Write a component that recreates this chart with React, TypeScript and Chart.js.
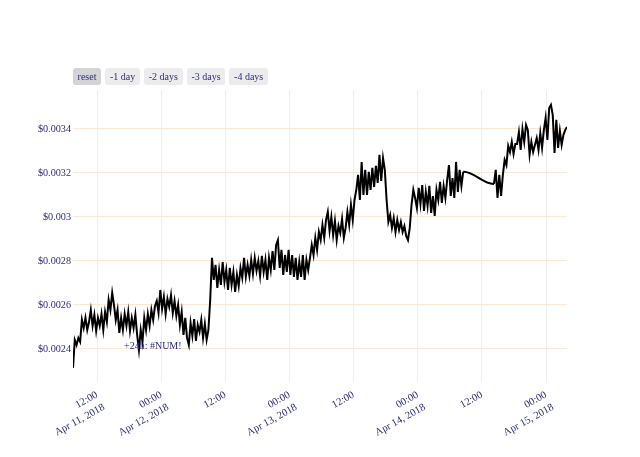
import React, { useEffect, useRef } from "react";
import { Chart, registerables } from "chart.js";

Chart.register(...registerables);

// Hours counted from Apr 11, 2018 00:00
const part1StartHour = 7.5; // Apr 11 07:30
const part2StartHour = 86.25; // Apr 14 14:15
const stepHours = 1 / 3; // 20-minute samples

// Prices in millionths of a dollar
const pricesPart1 = [
  2314, 2441, 2418, 2450, 2432,
  2532, 2495, 2541, 2486, 2523,
  2577, 2505, 2555, 2482, 2541, 2505, 2559, 2486,
  2568, 2523, 2623, 2577, 2655, 2600,
  2532, 2577, 2473, 2541,
  2486, 2559, 2505, 2568, 2482, 2541, 2495, 2555,
  2464, 2395, 2486, 2432,
  2541, 2486, 2559, 2505, 2577, 2532, 2595,
  2618, 2564, 2668, 2582, 2636, 2559, 2627, 2591, 2645, 2564, 2618, 2550,
  2600, 2509, 2568, 2464, 2541, 2450,
  2418, 2518, 2459, 2536, 2436, 2509, 2477, 2532, 2450, 2514, 2441, 2486,
  2623, 2814,
  2714, 2782, 2677, 2759, 2691, 2795, 2705,
  2759, 2668, 2768, 2691, 2750, 2659, 2736, 2686, 2768,
  2723, 2814, 2727, 2782, 2732, 2805, 2741, 2814, 2755, 2800,
  2732, 2823, 2750, 2805, 2714, 2814, 2759,
  2845, 2759, 2873, 2895, 2768, 2850, 2736, 2827, 2750, 2850,
  2736, 2827, 2727, 2814, 2714, 2795, 2727, 2827, 2714, 2805, 2759,
  2814, 2873, 2827, 2905, 2850, 2932,
  2895, 2964, 2905, 2986, 3023, 2936, 3000, 2918, 2982, 2895, 2959, 2927, 2991, 2905,
  2950, 3023, 2964, 3055, 2986, 3077,
  3123, 3191, 3077, 3250, 3100, 3214,
  3100, 3205, 3123, 3223,
  3136, 3232, 3155, 3282, 3164, 3268, 3214,
  3077, 2977, 3009,
  2950, 2995, 2932, 2986, 2941, 2977,
  2932, 2959, 2914, 2895, 2950,
  3055, 3123, 3086,
  3041, 3132, 3059, 3145, 3027, 3114, 3050, 3141, 3018, 3095, 3005,
  3123, 3077, 3159, 3064, 3141, 3086, 3168, 3236, 3095,
  3177, 3086, 3250, 3114, 3214, 3141, 3205,
];

const pricesPart2 = [
  3150,
  3214, 3086, 3191, 3095,
  3191, 3259, 3236,
  3323, 3295, 3341, 3286, 3332,
  3332, 3386, 3305, 3400, 3341,
  3418,
  3395, 3282, 3341, 3295,
  3327, 3359, 3305, 3382, 3314,
  3395, 3450, 3350,
  3495, 3509,
  3464, 3291, 3441,
  3314, 3391, 3327, 3373, 3395, 3409,
];

const xTickHours = [12, 24, 36, 48, 60, 72, 84, 96];
const xTickLabels: (string | string[])[] = [
  ["12:00", "Apr 11, 2018"],
  ["00:00", "Apr 12, 2018"],
  "12:00",
  ["00:00", "Apr 13, 2018"],
  "12:00",
  ["00:00", "Apr 14, 2018"],
  "12:00",
  ["00:00", "Apr 15, 2018"],
];

const yTickValues = [0.0024, 0.0026, 0.0028, 0.003, 0.0032, 0.0034];
const yTickLabels = ["$0.0024", "$0.0026", "$0.0028", "$0.003", "$0.0032", "$0.0034"];

const rangeButtons = ["reset", "-1 day", "-2 days", "-3 days", "-4 days"];
const annotationText = "+24h: #NUM!";

const TEXT_COLOR = "#2c2c7e";
const FONT = "'Liberation Serif', 'Times New Roman', serif";

export default function App() {
  const canvasRef = useRef<HTMLCanvasElement | null>(null);

  useEffect(() => {
    if (!canvasRef.current) return;
    const part1 = pricesPart1.map((p, i) => ({ x: part1StartHour + i * stepHours, y: p / 1e6 }));
    const part2 = pricesPart2.map((p, i) => ({ x: part2StartHour + i * stepHours, y: p / 1e6 }));
    const points = [...part1, ...part2];
    const gapIndex = part1.length - 1;
    // smooth connector over the data gap (same points, drawn as a spline)
    const bridge = [part1[part1.length - 2], part1[part1.length - 1], part2[0], part2[1]];
    const xMin = points[0].x;
    const xMax = points[points.length - 1].x;

    const chart = new Chart(canvasRef.current, {
      type: "line",
      data: {
        datasets: [
          {
            data: points,
            borderColor: "#000000",
            borderWidth: 2,
            pointRadius: 0,
            tension: 0,
            fill: false,
            segment: {
              borderColor: (ctx: any) => (ctx.p0DataIndex === gapIndex ? "rgba(0,0,0,0)" : undefined),
            },
          },
          {
            data: bridge,
            borderColor: "#000000",
            borderWidth: 2,
            pointRadius: 0,
            tension: 0.45,
            fill: false,
            segment: {
              borderColor: (ctx: any) => (ctx.p0DataIndex === 1 ? "#000000" : "rgba(0,0,0,0)"),
            },
          },
        ],
      },
      options: {
        responsive: false,
        animation: false,
        layout: { padding: { left: 0, top: 90, right: 73, bottom: 0 } },
        plugins: { legend: { display: false }, tooltip: { enabled: false } },
        scales: {
          x: {
            type: "linear",
            min: xMin,
            max: xMax,
            afterBuildTicks: (scale: any) => {
              scale.ticks = xTickHours.map((v) => ({ value: v }));
            },
            afterFit: (scale: any) => {
              scale.height = 74;
            },
            grid: { color: "#eeeeee", drawTicks: false, lineWidth: 1 },
            border: { display: false },
            ticks: {
              autoSkip: false,
              maxRotation: 29,
              minRotation: 29,
              padding: 5,
              color: TEXT_COLOR,
              font: { family: FONT, size: 10.5, lineHeight: 1.35 },
              callback: (value: any) => {
                const idx = xTickHours.indexOf(Number(value));
                return idx >= 0 ? xTickLabels[idx] : "";
              },
            },
          },
          y: {
            type: "linear",
            min: 0.002245,
            max: 0.003577,
            afterBuildTicks: (scale: any) => {
              scale.ticks = yTickValues.map((v) => ({ value: v }));
            },
            afterFit: (scale: any) => {
              scale.width = 73;
            },
            grid: { color: "#fde6d2", drawTicks: false, lineWidth: 1 },
            border: { display: false },
            ticks: {
              padding: 2,
              color: TEXT_COLOR,
              font: { family: FONT, size: 10.2 },
              callback: (value: any) => {
                const idx = yTickValues.findIndex((v) => Math.abs(v - Number(value)) < 1e-9);
                return idx >= 0 ? yTickLabels[idx] : "";
              },
            },
          },
        },
      },
    });
    return () => chart.destroy();
  }, []);

  return (
    <div style={{ position: "absolute", left: 0, top: 0, width: 640, height: 457, background: "#ffffff" }}>
      <canvas ref={canvasRef} width={640} height={457} style={{ width: 640, height: 457, display: "block" }} />
      <div
        style={{
          position: "absolute",
          left: 73,
          top: 68,
          display: "flex",
          gap: "4.3px",
        }}
      >
        {rangeButtons.map((b, i) => (
          <div
            key={b}
            style={{
              height: 17,
              lineHeight: "17px",
              padding: "0 4.6px",
              borderRadius: 3,
              background: i === 0 ? "#d4d4d8" : "#ececee",
              color: TEXT_COLOR,
              fontFamily: FONT,
              fontSize: 10,
              whiteSpace: "nowrap",
            }}
          >
            {b}
          </div>
        ))}
      </div>
      <div
        style={{
          position: "absolute",
          left: 124,
          top: 340,
          color: TEXT_COLOR,
          fontFamily: FONT,
          fontSize: 10,
          lineHeight: "12px",
          whiteSpace: "nowrap",
        }}
      >
        {annotationText}
      </div>
    </div>
  );
}
